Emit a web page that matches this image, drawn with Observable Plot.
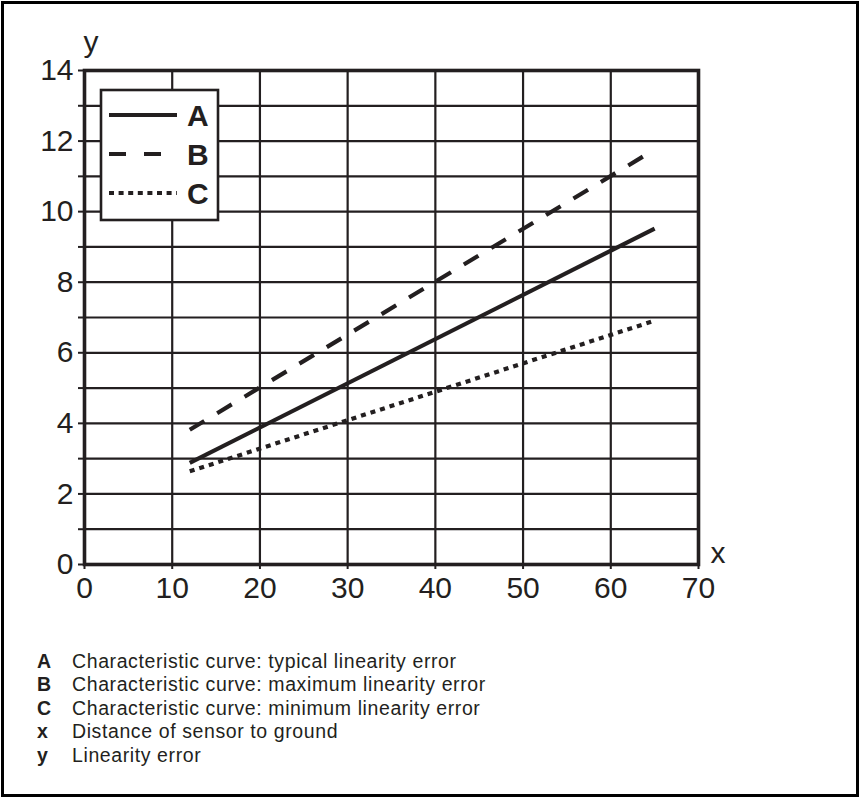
<!DOCTYPE html>
<html>
<head>
<meta charset="utf-8">
<script src="https://cdn.jsdelivr.net/npm/d3@7"></script>
<script src="https://cdn.jsdelivr.net/npm/@observablehq/plot@0.6"></script>
<style>
  html, body { margin: 0; padding: 0; background: #fff; }
  #page { position: relative; width: 863px; height: 800px; overflow: hidden; font-family: "Liberation Sans", Arial, Helvetica, sans-serif; color: #231f20; }
  #border { position: absolute; left: 1px; top: 1px; width: 852px; height: 790px; border: 3px solid #000; }
  #chart { position: absolute; left: 0; top: 0; }
  #legend { position: absolute; left: 0; top: 0; }
  #caption { position: absolute; left: 37px; top: 650px; font-size: 19.5px; line-height: 23.4px; letter-spacing: 0.6px; }
  #caption .row { white-space: nowrap; }
  #caption .k { display: inline-block; width: 35px; font-weight: bold; letter-spacing: 0; }
</style>
</head>
<body>
<div id="page">
  <div id="border"></div>
  <div id="chart"></div>
  <svg id="legend" width="863" height="300"></svg>
  <div id="caption"></div>
</div>
<script>
// ---- data ----
const xTicks = [0, 10, 20, 30, 40, 50, 60, 70];
const yTicks = [0, 1, 2, 3, 4, 5, 6, 7, 8, 9, 10, 11, 12, 13, 14];
const xValues = [12, 65];
const seriesA = [2.88, 9.52];   // typical
const seriesB = [3.82, 11.76];  // maximum
const seriesC = [2.64, 6.91];   // minimum
const seriesKeys = ["A", "B", "C"];
const captionKeys = ["A", "B", "C", "x", "y"];
const captionTexts = [
  "Characteristic curve: typical linearity error",
  "Characteristic curve: maximum linearity error",
  "Characteristic curve: minimum linearity error",
  "Distance of sensor to ground",
  "Linearity error"
];

const dashes = { A: null, B: "17,15", C: "5,5" };
const seriesVals = { A: seriesA, B: seriesB, C: seriesC };
const rows = seriesKeys.flatMap(k => xValues.map((x, i) => ({ key: k, x, y: seriesVals[k][i] })));

const ink = "#231f20";
const font = '"Liberation Sans", Arial, Helvetica, sans-serif';

const lineMarks = seriesKeys.map(k =>
  Plot.line(rows.filter(d => d.key === k), {
    x: "x", y: "y", stroke: ink, strokeWidth: 4.2,
    strokeDasharray: dashes[k], strokeLinecap: "butt"
  })
);

const chart = Plot.plot({
  width: 863,
  height: 610,
  marginLeft: 84,
  marginRight: 165,
  marginTop: 70,
  marginBottom: 46,
  x: { domain: [0, 70] },
  y: { domain: [0, 14] },
  style: { fontFamily: font, fontSize: "30px", color: ink, background: "transparent", overflow: "visible" },
  marks: [
    Plot.gridY(yTicks, { stroke: ink, strokeOpacity: 1, strokeWidth: 2.2 }),
    Plot.gridX(xTicks, { stroke: ink, strokeOpacity: 1, strokeWidth: 2.2 }),
    ...lineMarks,
    Plot.frame({ stroke: ink, strokeWidth: 3.6 }),
    Plot.axisY(yTicks, { tickSize: 6, tickPadding: 5, strokeWidth: 2, label: null,
      tickFormat: d => (d % 2 === 0 ? String(d) : ""), fontSize: 30 }),
    Plot.axisX(xTicks, { tickSize: 5, tickPadding: 7, strokeWidth: 2, label: null, fontSize: 30 }),
    Plot.text(["y"], { frameAnchor: "top-left", text: d => d, textAnchor: "start", dx: -1, dy: -40, fontSize: 30, fill: ink }),
    Plot.text(["x"], { frameAnchor: "bottom-right", text: d => d, textAnchor: "start", dx: 12, dy: -2, fontSize: 30, fill: ink })
  ]
});
document.getElementById("chart").appendChild(chart);

// ---- legend box ----
const lg = d3.select("#legend");
lg.append("rect").attr("x", 101).attr("y", 90).attr("width", 117).attr("height", 130)
  .attr("fill", "#fff").attr("stroke", ink).attr("stroke-width", 2.6);
seriesKeys.forEach((k, i) => {
  const cy = 115 + i * 39;
  lg.append("line").attr("x1", 109).attr("x2", 177).attr("y1", cy).attr("y2", cy)
    .attr("stroke", ink).attr("stroke-width", 4.2)
    .attr("stroke-dasharray", k === "B" ? "17,18" : k === "C" ? "5,4.6" : null);
  lg.append("text").attr("x", 187).attr("y", cy + 10.5).text(k)
    .attr("font-family", font).attr("font-weight", "bold").attr("font-size", 30).attr("fill", ink);
});

// ---- caption ----
const cap = d3.select("#caption");
captionKeys.forEach((k, i) => {
  const r = cap.append("div").attr("class", "row");
  r.append("span").attr("class", "k").text(k);
  r.append("span").text(captionTexts[i]);
});
</script>
</body>
</html>
